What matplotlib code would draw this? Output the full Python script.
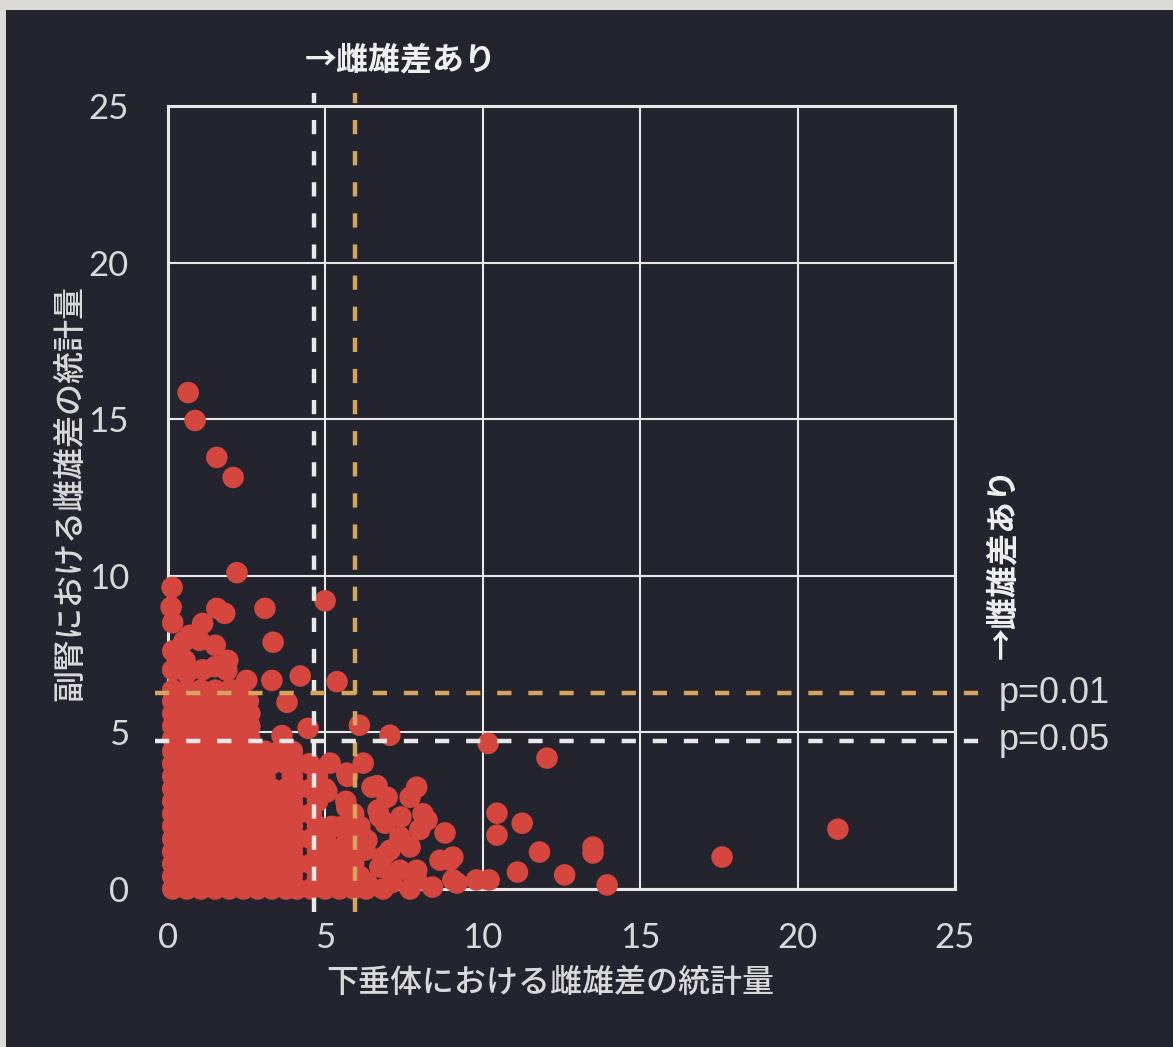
import matplotlib
matplotlib.use("Agg")
import matplotlib.pyplot as plt
from matplotlib.patches import Rectangle

# ---------------- data ----------------
# dense cluster: row y value and x values of points
dense_row_y = [0.0, 0.4, 0.8, 1.2, 1.6, 2.0, 2.4, 2.8, 3.2, 3.6, 4.0, 4.4,
               4.8, 5.2, 5.6, 6.0, 6.35]
dense_row_x = [
    [0.15, 0.6, 1.05, 1.5, 1.95, 2.4, 2.85, 3.3, 3.75, 4.1, 4.55, 5.0, 5.45, 5.9, 6.3],
    [0.15, 0.38, 0.83, 1.28, 1.73, 2.18, 2.63, 3.08, 3.53, 3.95, 4.75, 5.2, 5.65, 6.1],
    [0.15, 0.6, 1.05, 1.5, 1.95, 2.4, 2.85, 3.3, 3.75, 4.1, 4.55, 5.0, 5.45, 5.9],
    [0.15, 0.38, 0.83, 1.28, 1.73, 2.18, 2.63, 3.08, 3.53, 3.95, 4.75, 5.2, 5.65],
    [0.15, 0.6, 1.05, 1.5, 1.95, 2.4, 2.85, 3.3, 3.75, 4.1, 4.55, 5.0, 5.9],
    [0.15, 0.38, 0.83, 1.28, 1.73, 2.18, 2.63, 3.08, 3.53, 3.95, 4.75, 5.2, 5.65],
    [0.15, 0.6, 1.05, 1.5, 1.95, 2.4, 2.85, 3.3, 3.75, 4.1, 4.55, 5.9],
    [0.15, 0.38, 0.83, 1.28, 1.73, 2.18, 2.63, 3.08, 3.53, 3.95, 4.75, 5.65],
    [0.15, 0.6, 1.05, 1.5, 1.95, 2.4, 2.85, 3.3, 3.75, 4.1, 4.55, 5.0],
    [0.15, 0.38, 0.83, 1.28, 1.73, 2.18, 2.63, 3.08, 3.95, 4.75, 5.7],
    [0.15, 0.6, 1.05, 1.5, 1.95, 2.4, 2.85, 3.3, 3.75, 4.1, 4.5],
    [0.15, 0.38, 0.83, 1.28, 1.73, 2.18, 2.63, 3.08, 3.53, 3.95],
    [0.15, 0.6, 1.05, 1.5, 1.95, 2.4, 2.6],
    [0.15, 0.38, 0.83, 1.28, 1.73, 2.18, 2.6],
    [0.15, 0.6, 1.05, 1.5, 1.95, 2.4, 2.6],
    [0.15, 0.38, 0.83, 1.28, 1.73, 2.18, 2.55],
    [0.15, 0.6, 1.05, 1.5, 1.95, 2.1],
]

# scattered points
scatter_x = [
    0.64, 0.86, 1.55, 2.07, 2.19, 0.13, 0.1, 0.15, 4.99, 3.08,
    1.55, 1.8, 1.1, 0.7, 1.0, 1.5, 3.34, 1.9, 1.87, 0.54,
    2.5, 3.3, 4.2, 5.37, 3.78, 4.45, 6.08, 7.05, 10.17, 12.04,
    21.28, 17.6, 3.62, 0.15, 0.6, 1.1, 1.5, 0.15, 0.5,
    5.05, 5.15, 5.46, 5.56, 5.68, 5.68,
    6.26, 6.32, 6.2, 6.1,
    6.48, 6.64, 6.67, 6.73, 6.73, 6.83, 6.83, 6.32, 6.9, 6.96,
    7.05, 7.37, 7.37, 7.69, 7.69, 7.69, 7.9, 7.9, 7.9, 7.4,
    8.1, 8.23, 8.4, 8.64, 8.8, 8.96, 9.05, 9.05, 9.18, 9.8,
    10.2, 10.45, 10.45, 11.25, 11.1, 11.8, 12.6, 13.5, 13.5, 13.95,
    7.1, 8.0,
]
scatter_y = [
    15.85, 14.96, 13.78, 13.14, 10.1, 9.63, 9.0, 8.5, 9.2, 8.96,
    8.96, 8.8, 8.48, 8.1, 7.94, 7.78, 7.88, 7.3, 6.98, 7.3,
    6.66, 6.66, 6.8, 6.62, 5.96, 5.13, 5.23, 4.91, 4.65, 4.18,
    1.91, 1.02, 4.9, 7.0, 6.9, 7.0, 7.1, 7.6, 7.9,
    3.1, 4.02, 1.98, 1.34, 2.6, 3.7,
    1.24, 1.56, 4.02, 2.0,
    3.25, 3.3, 2.52, 2.3, 0.7, 1.02, 0.0, 0.19, 2.1, 2.93,
    1.24, 1.66, 0.6, 2.93, 1.34, 0.0, 3.25, 0.6, 0.29, 2.3,
    2.4, 2.2, 0.06, 0.92, 1.79, 0.92, 1.02, 0.29, 0.19, 0.29,
    0.29, 2.42, 1.72, 2.1, 0.54, 1.18, 0.45, 1.34, 1.15, 0.13,
    0.2, 1.9,
]

thr_x = [4.63, 5.95]          # vertical thresholds (white, orange)
thr_y = [4.73, 6.25]          # horizontal thresholds (p=0.05, p=0.01)
p_labels = ["p=0.05", "p=0.01"]
ticks = [0, 5, 10, 15, 20, 25]
xlabel = "下垂体における雌雄差の統計量"
ylabel = "副腎における雌雄差の統計量"
note = "→雌雄差あり"

# ---------------- style ----------------
BG = "#24242e"
BORDER = "#dcdad5"
RED = "#d5463f"
WHITE = "#e8e8e8"
ORANGE = "#d6a45c"
TXT = "#d9d9d9"
CJK = ["Noto Sans CJK JP", "DejaVu Sans"]

all_x, all_y = [], []
for yv, xs in zip(dense_row_y, dense_row_x):
    all_x += xs
    all_y += [yv] * len(xs)
all_x += scatter_x
all_y += scatter_y

fig = plt.figure(figsize=(11.73, 10.47), dpi=100, facecolor=BORDER)
fig.patches.append(Rectangle((6 / 1173, 0), 1, 1 - 10 / 1047,
                             transform=fig.transFigure, facecolor=BG,
                             edgecolor="none", zorder=-5))

ax = fig.add_axes([168 / 1173, 1 - 889 / 1047, (955 - 168) / 1173, (889 - 106) / 1047])
ax.set_facecolor(BG)
ax.set_xlim(0, 25)
ax.set_ylim(0, 25)
ax.set_xticks(ticks)
ax.set_yticks(ticks)
ax.set_xticklabels([str(t) for t in ticks])
ax.set_yticklabels([str(t) for t in ticks])
ax.grid(True, color=WHITE, lw=1.5, zorder=0.5)
ax.set_axisbelow(True)
for s in ax.spines.values():
    s.set_color(WHITE)
    s.set_linewidth(2.2)
    s.set_zorder(1)
ax.tick_params(length=0, pad=24, labelsize=25, labelcolor=TXT)
for lab in ax.get_xticklabels() + ax.get_yticklabels():
    lab.set_family(["Lato", "DejaVu Sans"])
    lab.set_fontweight("normal")
ax.tick_params(axis="y", pad=28)

ax.scatter(all_x, all_y, s=240, color=RED, edgecolors="none", zorder=3, clip_on=False)

ls = (0, (3.2, 3.8))
ax.plot([thr_x[0]] * 2, [-0.75, 25.4], color=WHITE, lw=3.2, ls=ls, zorder=4, clip_on=False)
ax.plot([thr_x[1]] * 2, [-0.75, 25.4], color=ORANGE, lw=3.2, ls=ls, zorder=4, clip_on=False)
ax.plot([-0.4, 26.05], [thr_y[0]] * 2, color=WHITE, lw=3.2, ls=ls, zorder=4, clip_on=False)
ax.plot([-0.4, 26.05], [thr_y[1]] * 2, color=ORANGE, lw=3.2, ls=ls, zorder=4, clip_on=False)

for yv, lab in zip(thr_y, p_labels):
    ax.text(26.4, yv, lab, fontsize=26, color=TXT, family=["Liberation Sans"],
            ha="left", va="center", clip_on=False)

ax.set_xlabel(xlabel, family=CJK, fontsize=23, color=TXT, fontweight="medium")
ax.xaxis.set_label_coords((550 - 168) / (955 - 168), -(983 - 889) / (889 - 106))
ax.xaxis.label.set_va("center")
ax.set_ylabel(ylabel, family=CJK, fontsize=23, color=TXT, fontweight="medium")
ax.yaxis.set_label_coords(-(168 - 70) / (955 - 168), (889 - 493) / (889 - 106))
ax.yaxis.label.set_va("center")

fig.text(401 / 1173, 1 - 60 / 1047, note, family=CJK, fontsize=23, fontweight="bold",
         color="#f0f0f0", ha="center", va="center")
fig.text(1003 / 1173, 1 - 563 / 1047, note, family=CJK, fontsize=23, fontweight="bold",
         color="#f0f0f0", ha="center", va="center", rotation=90)

fig.savefig("out.png", dpi=100, facecolor=fig.get_facecolor())
